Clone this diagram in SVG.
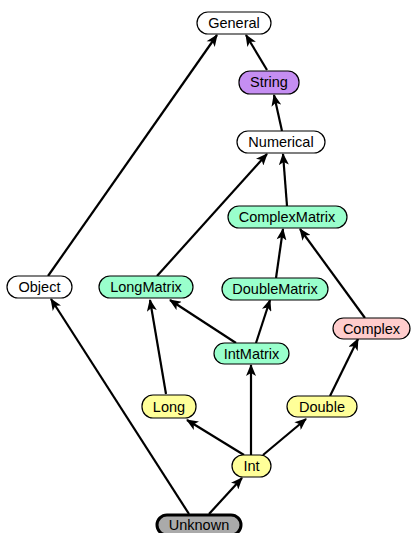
<svg xmlns="http://www.w3.org/2000/svg" width="413" height="533" viewBox="0 0 413 533">
<style>
.n rect{stroke:#000;stroke-width:1.2}
.n text{font-family:"Liberation Sans",Arial,sans-serif;font-size:14.5px;text-anchor:middle;dominant-baseline:central;fill:#000}
.w{fill:#fff}.p{fill:#c58ef2}.g{fill:#99ffcc}.r{fill:#ffcccc}.y{fill:#ffff99}.k{fill:#aaaaaa}
#edges line{stroke:#000;stroke-width:2.2;marker-end:url(#ah)}
</style>
<defs>
<marker id="ah" viewBox="0 0 12 10" refX="11" refY="5" markerWidth="13" markerHeight="10" markerUnits="userSpaceOnUse" orient="auto">
<path d="M0,0 L12,5 L0,10 L3,5 Z" fill="#000"/>
</marker>
</defs>
<rect width="413" height="533" fill="#fff"/>
<g id="edges">
<line x1="48" y1="276" x2="217" y2="35"/>
<line x1="267" y1="70" x2="246" y2="35"/>
<line x1="282" y1="131" x2="274" y2="95"/>
<line x1="287" y1="206" x2="283" y2="154"/>
<line x1="157" y1="276" x2="267" y2="154"/>
<line x1="276" y1="278" x2="283" y2="229"/>
<line x1="365" y1="318" x2="300" y2="229"/>
<line x1="236" y1="343" x2="170" y2="300"/>
<line x1="256" y1="343" x2="270" y2="300"/>
<line x1="166" y1="394" x2="150" y2="300"/>
<line x1="244" y1="455" x2="187" y2="420"/>
<line x1="251" y1="455" x2="251" y2="365"/>
<line x1="263" y1="455" x2="306" y2="419"/>
<line x1="330" y1="396" x2="358" y2="339"/>
<line x1="209" y1="514" x2="242" y2="478"/>
<line x1="189" y1="514" x2="51" y2="299"/>
</g>
<g id="General" class="n"><rect class="w" x="197" y="12" width="74" height="22" rx="11"/><text x="234" y="23">General</text></g>
<g id="String" class="n"><rect class="p" x="239" y="71" width="60" height="23" rx="11"/><text x="269" y="82">String</text></g>
<g id="Numerical" class="n"><rect class="w" x="237" y="131" width="88" height="22" rx="11"/><text x="281" y="142">Numerical</text></g>
<g id="ComplexMatrix" class="n"><rect class="g" x="228" y="206" width="119" height="22" rx="11"/><text x="287" y="217">ComplexMatrix</text></g>
<g id="Object" class="n"><rect class="w" x="7" y="276" width="65" height="22" rx="11"/><text x="39.5" y="287">Object</text></g>
<g id="LongMatrix" class="n"><rect class="g" x="99" y="276" width="94" height="22" rx="11"/><text x="146" y="287">LongMatrix</text></g>
<g id="DoubleMatrix" class="n"><rect class="g" x="222" y="278" width="106" height="22" rx="11"/><text x="275" y="289">DoubleMatrix</text></g>
<g id="Complex" class="n"><rect class="r" x="333" y="318" width="77" height="21" rx="10.5"/><text x="371.5" y="328.5">Complex</text></g>
<g id="IntMatrix" class="n"><rect class="g" x="214" y="343" width="75" height="21" rx="10.5"/><text x="251.5" y="353.5">IntMatrix</text></g>
<g id="Long" class="n"><rect class="y" x="142" y="395" width="54" height="23" rx="11"/><text x="169" y="406.5">Long</text></g>
<g id="Double" class="n"><rect class="y" x="287" y="396" width="70" height="21" rx="10.5"/><text x="322" y="406.5">Double</text></g>
<g id="Int" class="n"><rect class="y" x="232" y="455" width="39" height="22" rx="11"/><text x="251.5" y="466">Int</text></g>
<g id="Unknown" class="n"><rect class="k" x="157" y="515" width="84" height="20" rx="10" style="stroke-width:3"/><text x="199" y="525">Unknown</text></g>
</svg>
